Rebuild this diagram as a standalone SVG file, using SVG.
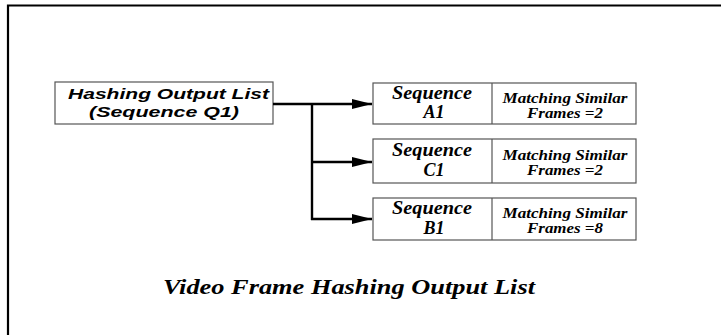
<svg xmlns="http://www.w3.org/2000/svg" width="721" height="335" viewBox="0 0 721 335">
  <style>
    .frame { stroke: #000; stroke-width: 2.2; fill: none; }
    .box { fill: #fff; stroke: #555; stroke-width: 1.2; }
    .link { stroke: #000; stroke-width: 2.4; fill: none; }
    .sans { font-family: "Liberation Sans", Arial, sans-serif; font-weight: bold; font-style: italic; fill: #000; }
    .serif { font-family: "Liberation Serif", "Times New Roman", serif; font-weight: bold; font-style: italic; fill: #000; }
    .src { font-size: 15px; }
    .seq { font-size: 18px; }
    .cnt { font-size: 15px; }
    .title { font-size: 20px; }
  </style>
  <defs>
    <marker id="head" markerWidth="20" markerHeight="10" refX="20" refY="5" orient="auto" markerUnits="userSpaceOnUse">
      <path d="M0,0 L20,5 L0,10 Z" fill="#000"/>
    </marker>
  </defs>

  <rect width="721" height="335" fill="#fff"/>
  <!-- page border (top and left edges) -->
  <path class="frame" d="M8,340 V5.5 H730"/>

  <g id="source">
    <rect class="box" x="55" y="82" width="218" height="42"/>
    <text class="sans src" x="68" y="99" textLength="201" lengthAdjust="spacingAndGlyphs">Hashing Output List</text>
    <text class="sans src" x="89" y="117" textLength="150" lengthAdjust="spacingAndGlyphs">(Sequence Q1)</text>
  </g>

  <g id="seqA1">
    <rect class="box" x="373" y="83" width="263" height="41"/>
    <line class="box" x1="492" y1="83" x2="492" y2="124"/>
    <text class="serif seq" x="432" y="99" text-anchor="middle" textLength="80" lengthAdjust="spacingAndGlyphs">Sequence</text>
    <text class="serif seq" x="434" y="118" text-anchor="middle">A1</text>
    <text class="serif cnt" x="565" y="103" text-anchor="middle" textLength="125" lengthAdjust="spacingAndGlyphs">Matching Similar</text>
    <text class="serif cnt" x="565" y="118" text-anchor="middle" textLength="76" lengthAdjust="spacingAndGlyphs">Frames =2</text>
  </g>

  <g id="seqC1">
    <rect class="box" x="373" y="139" width="263" height="44"/>
    <line class="box" x1="492" y1="139" x2="492" y2="183"/>
    <text class="serif seq" x="432" y="156" text-anchor="middle" textLength="80" lengthAdjust="spacingAndGlyphs">Sequence</text>
    <text class="serif seq" x="434" y="176" text-anchor="middle">C1</text>
    <text class="serif cnt" x="565" y="160" text-anchor="middle" textLength="125" lengthAdjust="spacingAndGlyphs">Matching Similar</text>
    <text class="serif cnt" x="565" y="175" text-anchor="middle" textLength="76" lengthAdjust="spacingAndGlyphs">Frames =2</text>
  </g>

  <g id="seqB1">
    <rect class="box" x="373" y="198" width="263" height="42"/>
    <line class="box" x1="492" y1="198" x2="492" y2="240"/>
    <text class="serif seq" x="432" y="214" text-anchor="middle" textLength="80" lengthAdjust="spacingAndGlyphs">Sequence</text>
    <text class="serif seq" x="434" y="234" text-anchor="middle">B1</text>
    <text class="serif cnt" x="565" y="218" text-anchor="middle" textLength="125" lengthAdjust="spacingAndGlyphs">Matching Similar</text>
    <text class="serif cnt" x="565" y="233" text-anchor="middle" textLength="76" lengthAdjust="spacingAndGlyphs">Frames =8</text>
  </g>

  <g id="connectors">
    <line class="link" x1="273" y1="104" x2="372" y2="104" marker-end="url(#head)"/>
    <line class="link" x1="312" y1="104" x2="312" y2="220"/>
    <line class="link" x1="311" y1="162" x2="372" y2="162" marker-end="url(#head)"/>
    <line class="link" x1="311" y1="219" x2="372" y2="219" marker-end="url(#head)"/>
  </g>

  <text id="caption" class="serif title" x="349" y="294" text-anchor="middle" textLength="372" lengthAdjust="spacingAndGlyphs">Video Frame Hashing Output List</text>
</svg>
